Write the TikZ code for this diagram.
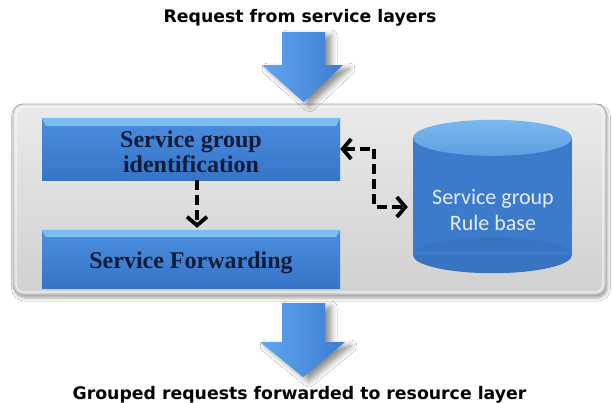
\documentclass[tikz,border=0pt]{standalone}
\usepackage{fontspec}
\setmainfont{Liberation Serif}
\newfontfamily\labelfont{DejaVu Sans}
\newfontfamily\dbfont{Carlito}
\usetikzlibrary{arrows.meta,shadows.blur,calc}

\definecolor{frameTop}{HTML}{EAEAEA}
\definecolor{frameBot}{HTML}{D0D0D0}
\definecolor{frameEdge}{HTML}{A6A6A6}
\definecolor{boxTop}{HTML}{4A8EE0}
\definecolor{boxBot}{HTML}{3674C6}
\definecolor{bevelBlue}{HTML}{7DBBF4}
\definecolor{boxText}{HTML}{0E1C38}
\definecolor{cylBody}{HTML}{3C7BCB}
\definecolor{cylBodyDark}{HTML}{3874C2}
\definecolor{cylTopLight}{HTML}{7AB8EF}
\definecolor{cylTopDark}{HTML}{5E9FE2}
\definecolor{cylText}{HTML}{E3EEF9}
\definecolor{flowLight}{HTML}{60A6F0}
\definecolor{flowDark}{HTML}{3B7CD0}

\tikzset{
  framebox/.style={rounded corners=10pt, top color=frameTop, bottom color=frameBot,
    draw=frameEdge, line width=0.8pt,
    blur shadow={shadow xshift=1.5pt, shadow yshift=-3pt, shadow blur radius=3pt, shadow opacity=35}},
  bluebox/.style={top color=boxTop, bottom color=boxBot, inner sep=0pt, minimum width=298pt},
  boxlabel/.style={text=boxText, align=center, inner sep=0pt,
    font=\bfseries\fontsize{24}{25.5}\selectfont},
  caption/.style={font=\labelfont\bfseries\fontsize{17.3}{20}\selectfont, text=black, inner sep=0pt},
  dasharrow/.style={line width=3.8pt, dash pattern=on 10pt off 5pt, black},
  barb/.tip={Straight Barb[length=8.5pt, width=20pt]},
  flowarrow/.style={left color=flowLight, right color=flowDark,
    blur shadow={shadow xshift=6pt, shadow yshift=-4pt, shadow blur radius=6pt, shadow opacity=45}}
}

\begin{document}
\begin{tikzpicture}[x=1pt, y=-1pt]
\useasboundingbox (0,0) rectangle (612,402);
\fill[white] (0,0) rectangle (612,402);

% gray container
\node[framebox, minimum width=593pt, minimum height=191pt, inner sep=0pt] (frame) at (309.5,199.5) {};
\draw[white, opacity=0.7, line width=1.2pt, rounded corners=8pt] (16,107) rectangle (603,292);

% block arrow: incoming requests
\path[flowarrow] (282,32) -- (325,32) -- (325,65) -- (343,65) -- (303.5,102) -- (262,65) -- (282,65) -- cycle;

% block arrow: outgoing grouped requests
\path[flowarrow] (282,303) -- (325,303) -- (325,342) -- (345,342) -- (303,377) -- (260,342) -- (282,342) -- cycle;

% captions
\node[caption, anchor=base] (req) at (300,22.7) {Request from service layers};
\node[caption, anchor=base] (out) at (299.5,399) {Grouped requests forwarded to resource layer};

% processing steps
\node[bluebox, minimum height=62pt] (sgi) at (191,149) {};
\fill[bevelBlue] (sgi.north west) -- (sgi.north east) -- ++(-4,8) -- ($(sgi.north west)+(4,8)$) -- cycle;
\node[boxlabel] (sgitext) at ($(sgi.center)+(0,3)$) {Service group\\identification};

\node[bluebox, minimum height=58pt] (sf) at (191,259) {};
\fill[bevelBlue] (sf.north west) -- (sf.north east) -- ++(-4,7) -- ($(sf.north west)+(4,7)$) -- cycle;
\node[boxlabel] (sftext) at ($(sf.center)+(0,4)$) {Service Forwarding};

% rule base cylinder
\node[minimum width=159pt, minimum height=153pt, inner sep=0pt] (rb) at (492.5,196.5) {};
\fill[cylBody] ($(rb.north west)+(0,18)$) rectangle ($(rb.south east)+(0,-18)$);
\fill[cylBodyDark] ($(rb.south)+(0,-18)$) ellipse[x radius=79.5, y radius=18];
\fill[cylBody] ($(rb.south west)+(0,-18)$) rectangle ($(rb.south east)+(0,-22)$);
\shade[top color=cylTopLight, bottom color=cylTopDark] ($(rb.north)+(0,18)$) ellipse[x radius=79.5, y radius=18];
\node[font=\dbfont\fontsize{22}{26}\selectfont, text=cylText, align=center] (rbtext) at (493,210) {Service group\\Rule base};

% connectors
\draw[dasharrow, -barb] ($(sgi.south)+(6,0)$) -- ($(sf.north)+(6,-2)$);
\draw[dasharrow, barb-barb] (sgi.east) -- ++(34,0) |- ($(rb.west)+(-5,10.5)$);
\end{tikzpicture}
\end{document}
